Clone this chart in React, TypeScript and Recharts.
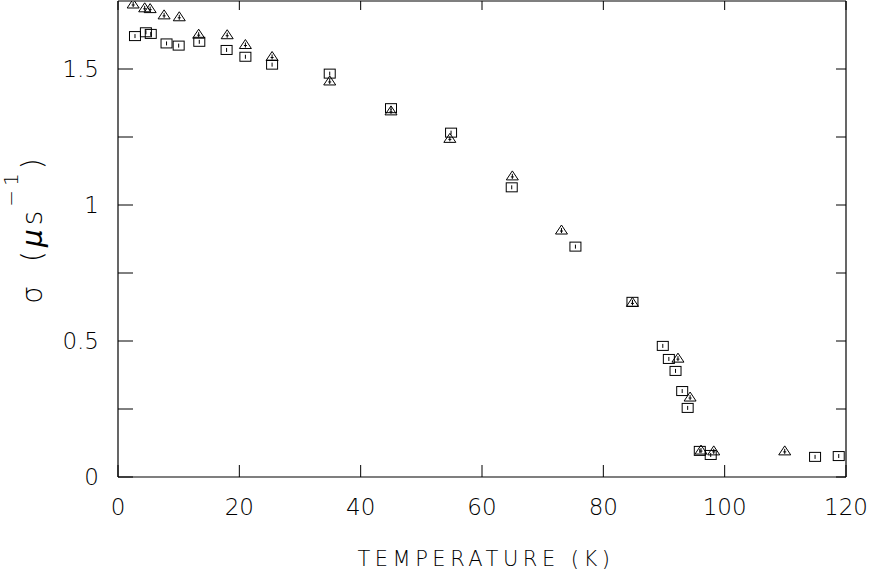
// @ts-nocheck
import React from 'react'
import { ScatterChart, Scatter, XAxis, YAxis } from 'recharts'

// temperature (K) and relaxation rate sigma (us^-1)
const squareT = [2.8, 4.6, 5.4, 8.0, 10.0, 13.4, 17.9, 21.0, 25.4, 34.9, 45.0, 54.9, 64.9, 75.4, 84.8, 89.8, 90.8, 91.9, 93.0, 93.9, 95.9, 97.7, 114.9, 118.8]
const squareSigma = [1.621, 1.635, 1.629, 1.594, 1.586, 1.600, 1.570, 1.545, 1.516, 1.483, 1.356, 1.266, 1.065, 0.847, 0.644, 0.482, 0.434, 0.390, 0.316, 0.254, 0.096, 0.081, 0.074, 0.077]
const triangleT = [2.5, 4.4, 5.3, 7.6, 10.1, 13.3, 18.0, 21.0, 25.4, 34.9, 45.0, 54.7, 65.0, 73.1, 84.8, 92.3, 94.3, 96.1, 98.2, 109.9]
const triangleSigma = [1.739, 1.725, 1.722, 1.699, 1.692, 1.628, 1.626, 1.590, 1.546, 1.456, 1.346, 1.245, 1.107, 0.908, 0.642, 0.437, 0.294, 0.099, 0.096, 0.096]

const xTicks = [0, 20, 40, 60, 80, 100, 120]
const yTicks = [0, 0.25, 0.5, 0.75, 1, 1.25, 1.5]
const yLabelled = [0, 0.5, 1, 1.5]

const squares = squareT.map((t, i) => ({ t, s: squareSigma[i] }))
const triangles = triangleT.map((t, i) => ({ t, s: triangleSigma[i] }))

const FONT = '"DejaVu Sans", "Liberation Sans", sans-serif'
const INK = '#000'

const SquareMark = ({ cx, cy }) => (
  <g stroke={INK} strokeWidth={1} fill="none">
    <rect x={cx - 5.5} y={cy - 4.5} width={11} height={9} />
    <line x1={cx} y1={cy - 2} x2={cx} y2={cy + 2} />
  </g>
)

const TriangleMark = ({ cx, cy }) => (
  <g stroke={INK} strokeWidth={1} fill="none">
    <path d={`M${cx - 6},${cy + 4} L${cx},${cy - 5} L${cx + 6},${cy + 4} Z`} />
    <line x1={cx} y1={cy - 2} x2={cx} y2={cy + 3} />
    <line x1={cx - 1.5} y1={cy + 1} x2={cx + 1.5} y2={cy + 1} />
  </g>
)

const BottomTick = ({ x, y, payload }) => (
  <g>
    <line x1={x} y1={y} x2={x} y2={y - 12} stroke={INK} />
    <text x={x} y={y + 38} textAnchor="middle" fontSize={23} fontFamily={FONT} fontWeight={200} fill={INK}>
      {payload.value}
    </text>
  </g>
)

const TopTick = ({ x, y }) => <line x1={x} y1={y} x2={x} y2={y + 9} stroke={INK} />

const LeftTick = ({ x, y, payload }) => (
  <g>
    <line x1={x} y1={y} x2={x + 15} y2={y} stroke={INK} />
    {yLabelled.includes(payload.value) && (
      <text x={x - 19} y={y + 8} textAnchor="end" fontSize={23} fontFamily={FONT} fontWeight={200} fill={INK}>
        {payload.value}
      </text>
    )}
  </g>
)

const RightTick = ({ x, y }) => <line x1={x} y1={y} x2={x - 10} y2={y} stroke={INK} />

const XLabel = ({ viewBox }) => (
  <text
    x={viewBox.x + viewBox.width / 2 + 4}
    y={566}
    textAnchor="middle"
    fontSize={21}
    letterSpacing={4.5}
    fontFamily={FONT}
    fontWeight={200}
    fill={INK}
  >
    TEMPERATURE (K)
  </text>
)

const YLabel = ({ viewBox }) => {
  const cx = viewBox.x - 16
  const cy = viewBox.y + viewBox.height / 2 - 10
  return (
    <text
      x={cx}
      y={cy}
      transform={`rotate(-90 ${cx} ${cy})`}
      textAnchor="middle"
      fontSize={28}
      letterSpacing={4}
      fontFamily={FONT}
      fontWeight={200}
      fill={INK}
    >
      <tspan>σ</tspan>
      <tspan dx={20}>(</tspan>
      <tspan fontStyle="italic">μ</tspan>
      <tspan>s</tspan>
      <tspan fontSize={20} dy={-24}>−1</tspan>
      <tspan dy={24}>)</tspan>
    </text>
  )
}

export default function App() {
  return (
    <div style={{ position: 'absolute', left: 0, top: 0, width: 869, height: 576, background: '#fff' }}>
      <ScatterChart width={869} height={576} margin={{ top: 0, right: 22, bottom: 69, left: 58 }}>
        <XAxis
          xAxisId="b" type="number" dataKey="t" domain={[0, 120]} ticks={xTicks} allowDataOverflow
          orientation="bottom" height={30} tickSize={0} tickMargin={0}
          axisLine={{ stroke: INK, strokeWidth: 1.2 }} tick={<BottomTick />} label={<XLabel />}
        />
        <XAxis
          xAxisId="t" type="number" dataKey="t" domain={[0, 120]} ticks={xTicks} allowDataOverflow
          orientation="top" height={1} tickSize={0} tickMargin={0}
          axisLine={{ stroke: INK, strokeWidth: 1.2 }} tick={<TopTick />}
        />
        <YAxis
          yAxisId="l" type="number" dataKey="s" domain={[0, 1.75]} ticks={yTicks} allowDataOverflow
          orientation="left" width={60} tickSize={0} tickMargin={0}
          axisLine={{ stroke: INK, strokeWidth: 1.2 }} tick={<LeftTick />} label={<YLabel />}
        />
        <YAxis
          yAxisId="r" type="number" dataKey="s" domain={[0, 1.75]} ticks={yTicks} allowDataOverflow
          orientation="right" width={1} tickSize={0} tickMargin={0}
          axisLine={{ stroke: INK, strokeWidth: 1.2 }} tick={<RightTick />}
        />
        <Scatter xAxisId="b" yAxisId="l" data={squares} shape={<SquareMark />} isAnimationActive={false} />
        <Scatter xAxisId="b" yAxisId="l" data={triangles} shape={<TriangleMark />} isAnimationActive={false} />
        <Scatter xAxisId="t" yAxisId="r" data={[]} isAnimationActive={false} />
      </ScatterChart>
    </div>
  )
}
